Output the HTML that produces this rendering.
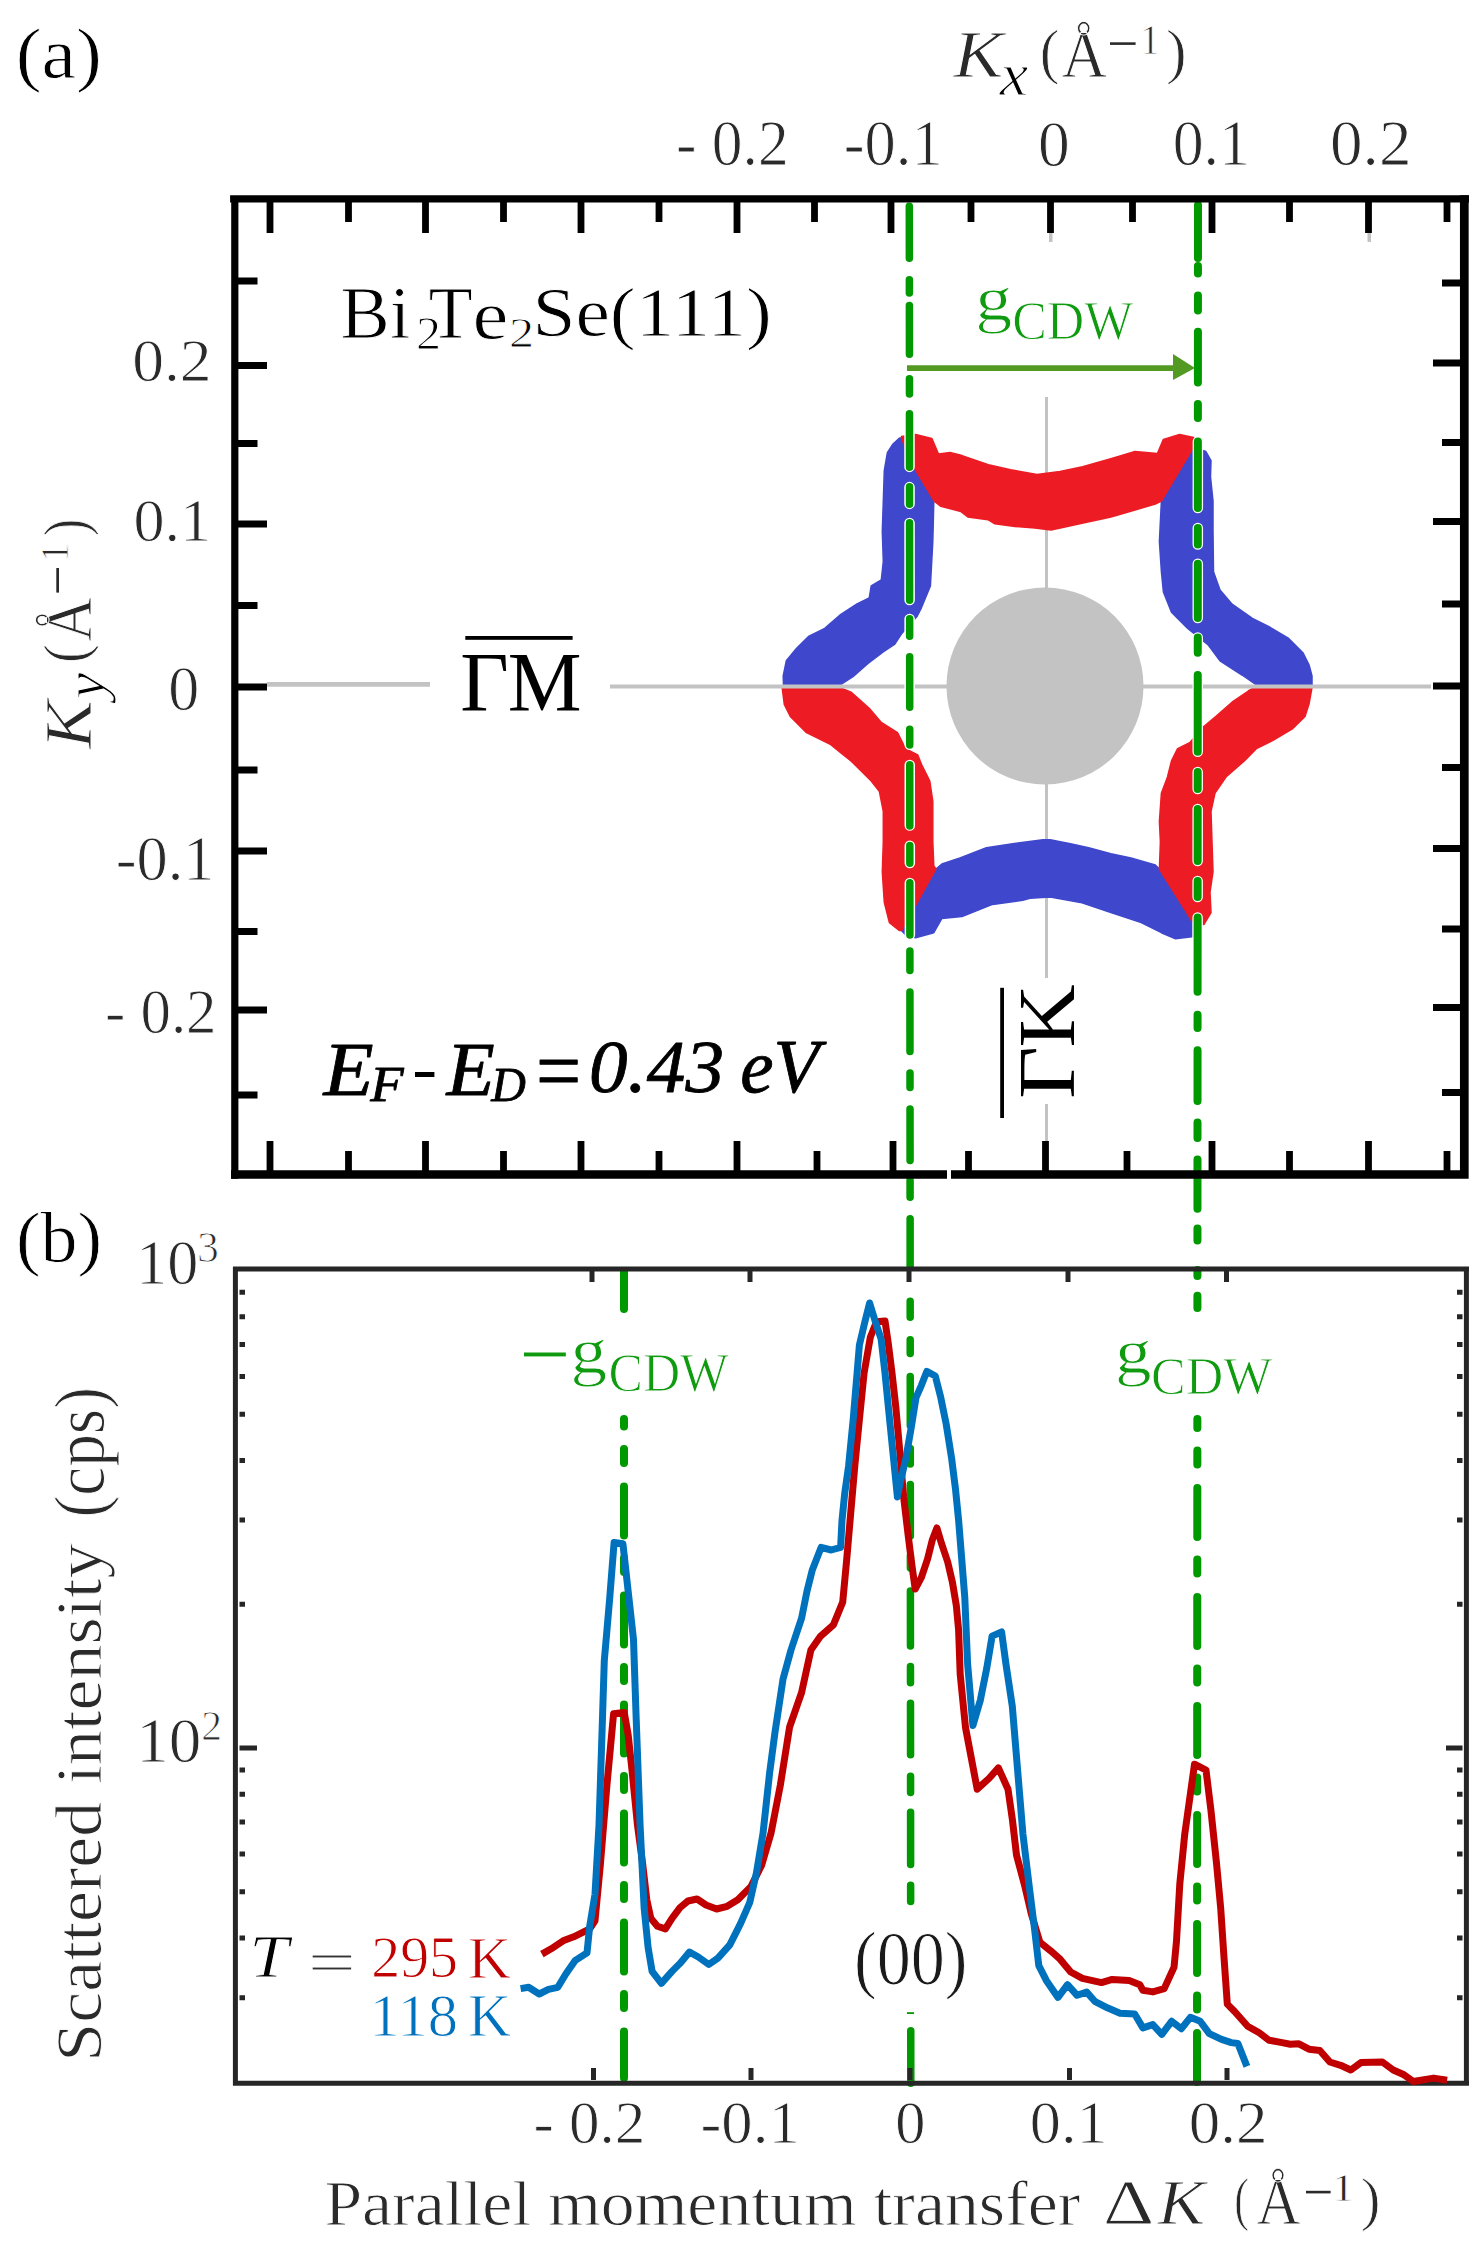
<!DOCTYPE html>
<html><head><meta charset="utf-8"><style>
html,body{margin:0;padding:0;background:#fff;}
svg{display:block;}
</style></head><body>
<svg width="1484" height="2259" viewBox="0 0 1484 2259">
<rect width="1484" height="2259" fill="#fff"/>
<line x1="1046.5" y1="397" x2="1046.5" y2="978" stroke="#c3c3c3" stroke-width="3"/>
<line x1="1046.5" y1="1104" x2="1046.5" y2="1142" stroke="#c3c3c3" stroke-width="3"/>
<circle cx="1045" cy="686" r="98.5" fill="#c3c3c3"/>
<rect x="1049" y="229" width="3.5" height="13" fill="#c3c3c3"/><rect x="1367.5" y="229" width="3.5" height="13" fill="#c3c3c3"/>
<polygon points="899.5,438.0 893.0,444.0 887.4,452.6 884.3,470.7 883.3,501.0 882.3,531.4 883.3,561.7 881.3,580.0 871.2,586.0 869.2,598.0 857.0,604.0 840.9,614.3 824.7,628.4 808.5,636.5 796.4,648.6 786.3,660.8 783.2,676.0 783.5,685.0 839.8,685.0 853.0,676.6 868.0,663.4 883.2,652.0 894.5,644.5 902.0,633.2 917.2,616.2 921.0,608.7 930.4,586.0 932.8,541.5 933.8,501.0 913.6,467.5 901.5,438.0" fill="#3f48cc" stroke="#3f48cc" stroke-width="1.5" stroke-linejoin="round"/>
<polygon points="1194.0,448.5 1199.8,449.5 1205.9,451.5 1211.0,460.6 1210.5,476.8 1213.0,501.0 1213.0,531.4 1213.5,571.8 1220.0,590.0 1232.1,604.2 1252.4,618.3 1268.5,626.4 1288.7,638.5 1302.9,652.7 1309.0,664.8 1312.0,676.0 1312.0,685.0 1256.4,685.0 1242.0,675.0 1220.0,660.8 1207.9,644.6 1187.7,628.4 1171.5,612.2 1163.4,592.0 1161.4,571.8 1159.4,541.5 1161.4,501.0" fill="#3f48cc" stroke="#3f48cc" stroke-width="1.5" stroke-linejoin="round"/>
<polygon points="935.9,869.0 941.9,864.0 960.0,857.9 986.4,847.8 1012.7,843.7 1043.0,839.7 1050.2,839.7 1070.4,843.7 1088.6,847.8 1110.9,853.8 1131.0,857.9 1155.3,865.0 1159.4,869.0 1192.0,921.0 1192.0,936.7 1175.5,938.7 1161.4,932.7 1141.2,922.6 1110.9,912.5 1080.5,902.4 1050.2,897.0 1030.0,898.3 1022.8,900.3 992.5,904.4 962.0,916.5 941.9,918.5 933.8,932.7 915.6,937.7 905.5,934.7 901.5,930.6" fill="#3f48cc" stroke="#3f48cc" stroke-width="1.5" stroke-linejoin="round"/>
<polygon points="901.5,436.4 915.6,434.4 931.8,438.4 938.5,454.0 950.0,452.6 962.0,455.6 988.4,464.7 1010.6,469.7 1037.0,474.5 1060.0,471.5 1082.6,466.7 1110.9,458.6 1135.0,451.5 1157.4,453.6 1163.4,439.4 1179.6,434.4 1193.7,437.4 1194.5,445.5 1161.4,501.0 1155.3,504.0 1135.0,510.0 1110.9,517.0 1086.6,522.3 1060.3,528.0 1051.0,530.0 1035.0,528.0 1015.0,526.5 994.8,523.8 988.0,519.7 967.8,517.0 961.0,511.6 940.9,506.3 934.5,501.5 913.9,467.2 901.5,438.4" fill="#ed1c24" stroke="#ed1c24" stroke-width="1.5" stroke-linejoin="round"/>
<polygon points="1312.0,687.5 1309.0,704.0 1305.0,716.4 1292.8,728.5 1272.6,740.6 1256.4,748.7 1244.3,760.9 1226.0,777.0 1215.0,793.2 1211.0,811.4 1212.0,841.7 1213.0,872.0 1210.0,892.2 1211.0,912.5 1203.8,924.6 1192.0,921.0 1159.4,869.0 1160.4,841.7 1159.4,821.5 1161.4,793.2 1167.5,777.0 1171.5,760.9 1177.6,748.7 1189.7,742.7 1203.8,726.5 1216.0,716.4 1232.0,702.2 1248.3,691.0 1254.4,687.5" fill="#ed1c24" stroke="#ed1c24" stroke-width="1.5" stroke-linejoin="round"/>
<polygon points="782.2,688.0 784.3,704.3 790.3,716.4 806.5,732.6 830.8,744.7 840.9,752.8 851.0,760.9 871.2,781.0 879.3,791.2 883.3,811.4 883.3,841.7 882.3,872.0 884.3,902.4 889.4,922.6 899.5,930.6 901.5,930.6 935.9,869.0 933.8,866.0 932.8,841.7 932.8,801.3 929.8,781.0 921.7,764.9 917.7,754.8 905.5,748.7 897.5,732.6 881.3,722.5 869.2,708.3 851.0,692.1 840.9,688.0" fill="#ed1c24" stroke="#ed1c24" stroke-width="1.5" stroke-linejoin="round"/>
<line x1="267" y1="684.4" x2="430" y2="684.4" stroke="#c3c3c3" stroke-width="4.6"/>
<line x1="610" y1="686.5" x2="1431" y2="686.5" stroke="#c3c3c3" stroke-width="4"/>
<path d="M909.47,414.1L909.52,466.9M909.52,487.1L909.55,503.9M909.55,523.0L909.62,600.0M909.63,619.0L909.65,636.0M909.66,657.0L909.71,707.0M909.72,729.5L909.74,744.7M909.74,765.0L909.80,825.6M909.81,845.8L909.83,863.0M909.84,883.0L909.89,934.7" stroke="#fff" stroke-width="10.5" stroke-linecap="round" fill="none"/>
<path d="M1197.89,404.1L1197.88,417.9M1197.88,441.4L1197.83,508.0M1197.83,528.0L1197.81,544.6M1197.81,563.8L1197.78,618.0M1197.77,637.5L1197.76,652.7M1197.75,675.0L1197.71,751.8M1197.70,772.0L1197.69,789.0M1197.68,809.0L1197.65,861.0M1197.64,881.0L1197.63,897.0M1197.62,917.5L1197.58,991.7" stroke="#fff" stroke-width="10.5" stroke-linecap="round" fill="none"/>
<path d="M909.30,206.2L909.35,258.2M909.36,279.8L909.38,292.9M909.38,305.4L909.43,354.2M909.44,378.8L909.46,393.9M909.47,413.8L909.52,467.2M909.52,486.8L909.54,504.2M909.55,522.8L909.62,600.2M909.63,618.8L909.65,636.2M909.66,656.8L909.71,707.2M909.72,729.2L909.74,745.0M909.75,764.8L909.80,825.9M909.81,845.5L909.83,863.2M909.84,882.8L909.89,935.0M909.89,951.0L909.91,970.5M909.93,992.0L909.98,1051.5M909.99,1073.0L910.01,1087.5M910.02,1109.0L910.07,1160.5M910.07,1180.2L910.09,1197.2M910.11,1218.8L910.15,1267.0M910.17,1301.2L910.19,1317.3M910.20,1339.7L910.22,1353.5M910.23,1376.5L910.28,1425.5M910.29,1448.5L910.31,1464.0M910.32,1484.5L910.36,1536.0M910.37,1555.8L910.39,1568.0M910.40,1591.0L910.45,1646.0M910.46,1666.5L910.48,1682.8M910.49,1703.3L910.54,1754.8M910.55,1776.2L910.57,1792.5M910.58,1812.2L910.62,1864.5M910.63,1885.2L910.65,1901.5M910.75,2030.8L910.80,2083.2" stroke="#009900" stroke-width="7.5" stroke-linecap="round" fill="none"/>
<path d="M1198.00,205.0L1197.97,258.0M1197.97,266.0L1197.96,273.5M1197.95,295.5L1197.94,310.5M1197.93,331.8L1197.90,382.5M1197.89,404.0L1197.88,418.0M1197.87,441.4L1197.83,508.0M1197.83,528.0L1197.82,544.6M1197.81,563.7L1197.78,618.0M1197.77,637.5L1197.76,652.7M1197.75,675.0L1197.71,751.8M1197.70,772.0L1197.69,789.0M1197.68,809.0L1197.65,861.0M1197.64,881.0L1197.63,897.0M1197.62,917.5L1197.58,991.7M1197.57,1014.8L1197.56,1027.9M1197.55,1050.2L1197.52,1101.0M1197.51,1122.5L1197.50,1138.0M1197.49,1159.5L1197.46,1208.7M1197.46,1228.5L1197.45,1240.6M1197.44,1270.0L1197.43,1276.0M1197.42,1295.7L1197.41,1308.0M1197.36,1419.0L1197.35,1428.0M1197.34,1450.5L1197.33,1464.5M1197.32,1488.0L1197.29,1537.0M1197.28,1559.5L1197.27,1573.5M1197.26,1597.0L1197.23,1646.0M1197.23,1668.5L1197.21,1682.5M1197.21,1706.0L1197.18,1755.0M1197.17,1777.5L1197.16,1791.5M1197.15,1815.0L1197.12,1864.0M1197.11,1886.5L1197.10,1900.5M1197.09,1924.0L1197.06,1973.0M1197.05,1995.5L1197.04,2009.5M1197.03,2033.0L1197.00,2082.0" stroke="#009900" stroke-width="8" stroke-linecap="round" fill="none"/>
<path d="M624.00,1272.0L624.00,1309.0M624.00,1419.0L624.00,1426.5M624.00,1449.0L624.00,1463.0M624.00,1486.5L624.00,1535.5M624.00,1558.0L624.00,1572.0M624.00,1595.5L624.00,1644.5M624.00,1667.0L624.00,1681.0M624.00,1704.5L624.00,1753.5M624.00,1776.0L624.00,1790.0M624.00,1813.5L624.00,1862.5M624.00,1885.0L624.00,1899.0M624.00,1922.5L624.00,1971.5M624.00,1994.0L624.00,2008.0M624.00,2031.5L624.00,2078.0" stroke="#009900" stroke-width="8" stroke-linecap="round" fill="none"/>
<rect x="907" y="2012.2" width="7" height="1.8" fill="#009900"/>
<line x1="907" y1="368.1" x2="1176" y2="368.1" stroke="#529a22" stroke-width="5.9"/>
<polygon points="1173,354 1173,380 1195,368.1" fill="#529a22"/>
<path d="M234.8,195.2V1178.8 M230.1,198.8H1469" stroke="#000" stroke-width="7.2" fill="none"/>
<path d="M1464.3,195.2V1178.8 M231,1174.5H947 M951,1174.5H1466" stroke="#000" stroke-width="8.7" fill="none"/>
<path d="M270,202V233 M425.5,202V233 M581,202V233 M737,202V233 M891,202V233 M1050.5,202V233 M1212,202V233 M1368.5,202V233 M348.5,202V222 M503.5,202V222 M659,202V222 M814.5,202V222 M971,202V222 M1132.5,202V222 M1289.5,202V222 M1447,202V222 M270,1171V1141 M425.5,1171V1141 M581,1171V1141 M737,1171V1141 M893,1171V1141 M1045.5,1171V1141 M1212,1171V1141 M1368.5,1171V1141 M348.5,1171V1151 M503.5,1171V1151 M659,1171V1151 M817,1171V1151 M968.5,1171V1151 M1127,1171V1151 M1289.5,1171V1151 M1447,1171V1151 M238,365.5H267 M238,524H267 M238,687H267 M238,851H267 M238,1010H267 M238,281H257.5 M238,443.5H257.5 M238,605.5H257.5 M238,770H257.5 M238,931.5H257.5 M238,1095H257.5 M1460,363H1433 M1460,521.5H1433 M1460,686H1433 M1460,848.5H1433 M1460,1007.5H1433 M1460,283H1442 M1460,442.5H1442 M1460,604H1442 M1460,767.5H1442 M1460,929H1442 M1460,1092.5H1442" stroke="#000" stroke-width="6.8" fill="none"/>
<rect x="465.3" y="636" width="107.3" height="3.8" fill="#000"/>
<rect x="1000.2" y="987.8" width="3.8" height="130.2" fill="#000"/>
<rect x="1110" y="42.3" width="25.6" height="2.6" fill="#2a2a2a"/>
<rect x="56.3" y="568" width="2.7" height="24.6" fill="#2a2a2a"/>
<rect x="415" y="1072" width="19.4" height="5" fill="#000"/>
<rect x="524" y="1352.5" width="41.8" height="3.9" fill="#109a10"/>
<rect x="1306" y="2190.8" width="24.6" height="2.6" fill="#2a2a2a"/>
<path d="M235.4,1266.8V2085.6 M233,1269H1469 M1466.4,1266.8V2085.6 M233,2083.2H1469" stroke="#262626" stroke-width="5" fill="none"/>
<path d="M593.5,2080V2068 M751,2080V2068 M910,2080V2068 M1069.5,2080V2068 M1227,2080V2068 M592,1271V1282 M750,1271V1282 M909,1271V1282 M1068,1271V1282 M1226.5,1271V1282 M239.5,1604.2H245 M1462.5,1604.2H1457 M239.5,1520.1H245 M1462.5,1520.1H1457 M239.5,1460.5H245 M1462.5,1460.5H1457 M239.5,1414.2H245 M1462.5,1414.2H1457 M239.5,1376.4H245 M1462.5,1376.4H1457 M239.5,1344.4H245 M1462.5,1344.4H1457 M239.5,1316.7H245 M1462.5,1316.7H1457 M239.5,1292.3H245 M1462.5,1292.3H1457 M239.5,1997.7H245 M1462.5,1997.7H1457 M239.5,1938.1H245 M1462.5,1938.1H1457 M239.5,1891.8H245 M1462.5,1891.8H1457 M239.5,1854.0H245 M1462.5,1854.0H1457 M239.5,1822.0H245 M1462.5,1822.0H1457 M239.5,1794.3H245 M1462.5,1794.3H1457 M239.5,1769.9H245 M1462.5,1769.9H1457 M239.5,1748H257 M1462.5,1748H1446" stroke="#262626" stroke-width="5" fill="none"/>
<polyline points="541.9,1954.1 551.2,1948.8 563.1,1940.8 573.7,1936.8 581.7,1932.8 589.7,1928.9 595.0,1920.9 600.3,1865.1 606.9,1785.4 613.6,1713.7 624.2,1712.4 628.2,1735.0 632.2,1772.2 637.5,1825.3 642.8,1865.1 646.8,1899.7 650.8,1918.3 657.4,1926.2 665.4,1928.9 672.0,1918.3 680.0,1907.6 688.0,1901.0 697.0,1899.0 706.0,1905.0 716.6,1909.0 727.2,1906.3 737.8,1899.7 751.1,1886.4 761.7,1865.1 771.0,1833.3 780.3,1785.4 789.6,1727.0 801.6,1692.5 810.9,1650.0 820.1,1636.7 833.4,1624.8 842.7,1602.2 846.7,1559.7 850.1,1520.1 854.8,1465.9 859.4,1419.4 864.1,1373.0 870.3,1337.3 876.5,1321.8 885.0,1321.0 888.1,1342.0 892.0,1373.0 895.8,1407.0 899.7,1450.4 903.6,1496.9 908.2,1535.6 912.1,1566.6 915.2,1589.0 921.4,1577.4 927.6,1558.9 932.2,1540.3 936.9,1527.9 941.5,1543.4 947.7,1562.0 952.4,1582.1 956.3,1605.3 958.6,1630.0 960.2,1674.4 965.5,1727.5 977.2,1789.2 988.9,1778.5 998.4,1767.9 1008.0,1789.2 1012.3,1818.9 1016.5,1855.0 1025.0,1886.9 1031.5,1914.6 1039.9,1942.2 1050.5,1950.7 1060.1,1959.2 1070.7,1972.0 1082.4,1978.3 1101.5,1982.6 1112.2,1979.4 1129.2,1980.4 1139.8,1984.7 1142.9,1990.2 1152.8,1991.9 1164.2,1988.6 1174.0,1967.3 1176.5,1941.1 1179.8,1883.8 1184.7,1834.6 1190.4,1793.7 1194.5,1764.2 1206.0,1770.0 1210.9,1810.0 1216.6,1864.1 1220.7,1908.3 1224.0,1957.5 1227.3,2004.1 1234.6,2011.5 1247.7,2026.3 1259.2,2032.8 1269.0,2040.2 1282.1,2042.6 1290.3,2044.3 1298.9,2043.8 1309.0,2049.2 1319.8,2050.5 1329.9,2062.0 1340.6,2065.3 1350.8,2070.0 1360.9,2062.6 1382.4,2062.0 1393.2,2070.0 1404.0,2074.8 1413.4,2081.5 1433.6,2078.1 1447.1,2080.2" fill="none" stroke="#c00000" stroke-width="7" stroke-linejoin="round" stroke-linecap="butt"/>
<polyline points="520.6,1988.6 528.6,1987.3 539.2,1994.0 548.5,1989.4 557.8,1987.3 565.8,1974.0 575.0,1960.7 587.0,1952.8 589.7,1926.2 595.0,1894.3 599.0,1825.3 601.6,1745.6 604.3,1660.6 609.6,1599.5 614.1,1542.4 622.9,1543.7 628.2,1591.6 633.5,1639.4 636.2,1719.0 640.1,1825.3 644.1,1907.6 648.1,1947.5 652.1,1971.4 661.4,1983.3 672.0,1971.4 680.0,1963.4 689.5,1952.0 698.3,1957.0 708.8,1964.5 717.9,1958.1 729.8,1944.8 740.5,1923.6 749.8,1902.3 756.4,1873.1 763.0,1833.3 769.7,1772.2 775.0,1732.3 783.0,1679.2 791.0,1650.0 801.6,1618.1 806.9,1591.6 812.2,1570.3 821.1,1547.4 831.2,1550.0 840.6,1547.4 842.0,1520.4 844.7,1493.5 848.6,1465.9 853.2,1419.4 857.1,1373.0 859.4,1345.0 864.9,1321.8 869.6,1303.0 874.9,1320.3 881.1,1338.9 885.0,1373.0 889.6,1419.4 893.5,1458.2 897.4,1496.9 900.5,1481.4 905.9,1458.2 911.3,1427.2 916.0,1397.7 921.4,1385.3 926.8,1371.4 935.3,1376.0 940.8,1397.7 946.2,1424.1 951.6,1458.2 955.5,1489.1 958.6,1520.1 961.7,1558.9 964.8,1597.6 967.6,1663.8 972.9,1725.4 980.4,1699.9 986.8,1668.0 992.1,1636.1 1001.6,1631.9 1005.9,1663.8 1012.3,1706.3 1017.6,1770.0 1022.9,1833.8 1029.3,1886.9 1034.6,1929.4 1038.8,1965.6 1046.3,1980.4 1058.0,1997.4 1067.5,1984.7 1077.1,1995.3 1086.7,1992.1 1095.2,2001.7 1107.9,2008.1 1120.0,2013.2 1134.7,2014.0 1142.9,2027.9 1152.8,2024.6 1161.8,2034.4 1171.6,2021.3 1181.4,2028.7 1190.4,2017.3 1200.2,2021.3 1209.3,2033.6 1221.5,2039.4 1231.4,2042.6 1237.9,2043.5 1246.9,2066.4" fill="none" stroke="#0072bd" stroke-width="7" stroke-linejoin="round" stroke-linecap="butt"/>
<g id="ta" class="tx" transform="matrix(0.97119,0,0,0.90447,-2.724,3.768)"><text class="thin" x="19" y="82" style="font-family:'Liberation Serif', serif;font-size:80px;fill:#000;stroke:#fff;stroke-width:0.9px;">(a)</text></g>
<g id="kxK" class="tx" transform="matrix(1.16554,0,0,1.04541,-156.165,-3.257)"><text class="thin" x="952" y="77" style="font-family:'Liberation Serif', serif;font-size:64px;fill:#2a2a2a;font-style:italic;stroke:#fff;stroke-width:0.9px;">K</text></g>
<g id="kxx" class="tx" transform="matrix(1.28180,0,0,1.22413,-280.640,-13.008)"><text class="thin" x="999" y="88" style="font-family:'Liberation Serif', serif;font-size:50px;fill:#000;font-style:italic;stroke:#fff;stroke-width:0.9px;">x</text></g>
<g id="kxp1" class="tx" transform="matrix(0.92341,0,0,0.96249,77.561,-2.526)"><text class="thin" x="1042" y="77" style="font-family:'Liberation Serif', serif;font-size:64px;fill:#2a2a2a;stroke:#fff;stroke-width:0.9px;">(</text></g>
<g id="kxA" class="tx" transform="matrix(0.98428,0,0,1.07071,16.227,-5.189)"><text class="thin" x="1062" y="77" style="font-family:'Liberation Serif', serif;font-size:64px;fill:#2a2a2a;stroke:#fff;stroke-width:0.9px;">Å</text></g>
<g id="kx1" class="tx" transform="matrix(1.04167,0,0,1.06200,-51.125,-2.895)"><text class="thin" x="1143" y="54" style="font-family:'Liberation Serif', serif;font-size:40px;fill:#2a2a2a;stroke:#fff;stroke-width:0.9px;">1</text></g>
<g id="kxp2" class="tx" transform="matrix(0.96832,0,0,0.96249,35.003,-2.526)"><text class="thin" x="1168" y="77" style="font-family:'Liberation Serif', serif;font-size:64px;fill:#2a2a2a;stroke:#fff;stroke-width:0.9px;">)</text></g>
<g id="xt0" class="tx" transform="matrix(0.96131,0,0,1.01007,23.869,-2.636)"><text class="thin" x="678.3" y="166" style="font-family:'Liberation Serif', serif;font-size:64px;fill:#2a2a2a;stroke:#fff;stroke-width:0.9px;">- 0.2</text></g>
<g id="xt1" class="tx" transform="matrix(0.97776,0,0,1.01007,16.478,-2.636)"><text class="thin" x="846" y="166" style="font-family:'Liberation Serif', serif;font-size:64px;fill:#2a2a2a;stroke:#fff;stroke-width:0.9px;">-0.1</text></g>
<g id="xt2" class="tx" transform="matrix(0.99194,0,0,1.02792,6.122,-5.197)"><text class="thin" x="1040.2" y="166.6" style="font-family:'Liberation Serif', serif;font-size:64px;fill:#2a2a2a;stroke:#fff;stroke-width:0.9px;">0</text></g>
<g id="xt3" class="tx" transform="matrix(0.96630,0,0,1.01007,37.274,-2.636)"><text class="thin" x="1175" y="166" style="font-family:'Liberation Serif', serif;font-size:64px;fill:#2a2a2a;stroke:#fff;stroke-width:0.9px;">0.1</text></g>
<g id="xt4" class="tx" transform="matrix(1.01709,0,0,1.01007,-25.393,-2.636)"><text class="thin" x="1332.7" y="166" style="font-family:'Liberation Serif', serif;font-size:64px;fill:#2a2a2a;stroke:#fff;stroke-width:0.9px;">0.2</text></g>
<g id="yt0" class="tx" transform="matrix(0.99374,0,0,0.96764,-1.517,11.309)"><text class="thin" x="134.5" y="381.8" style="font-family:'Liberation Serif', serif;font-size:64px;fill:#2a2a2a;stroke:#fff;stroke-width:0.9px;">0.2</text></g>
<g id="yt1" class="tx" transform="matrix(0.97180,0,0,0.94959,1.586,26.353)"><text class="thin" x="135.7" y="541.5" style="font-family:'Liberation Serif', serif;font-size:64px;fill:#2a2a2a;stroke:#fff;stroke-width:0.9px;">0.1</text></g>
<g id="yt2" class="tx" transform="matrix(0.96876,0,0,0.97538,2.920,16.978)"><text class="thin" x="170.8" y="710.6" style="font-family:'Liberation Serif', serif;font-size:64px;fill:#2a2a2a;stroke:#fff;stroke-width:0.9px;">0</text></g>
<g id="yt3" class="tx" transform="matrix(0.97624,0,0,0.97855,0.456,18.035)"><text class="thin" x="118" y="880.6" style="font-family:'Liberation Serif', serif;font-size:64px;fill:#2a2a2a;stroke:#fff;stroke-width:0.9px;">-0.1</text></g>
<g id="yt4" class="tx" transform="matrix(0.95145,0,0,0.97855,2.867,21.168)"><text class="thin" x="107.3" y="1034.4" style="font-family:'Liberation Serif', serif;font-size:64px;fill:#2a2a2a;stroke:#fff;stroke-width:0.9px;">- 0.2</text></g>
<g id="kyK" class="tx" transform="matrix(1.04541,0,0,1.14656,-4.101,-111.031)"><text class="thin" x="0" y="0" transform="translate(91,750) rotate(-90)" style="font-family:'Liberation Serif', serif;font-size:64px;fill:#2a2a2a;font-style:italic;stroke:#fff;stroke-width:0.9px;">K</text></g>
<g id="kyy" class="tx" transform="matrix(1.15625,0,0,1.17266,-17.044,-126.716)"><text class="thin" x="0" y="0" transform="translate(105,704) rotate(-90)" style="font-family:'Liberation Serif', serif;font-size:50px;fill:#000;font-style:italic;stroke:#fff;stroke-width:0.9px;">y</text></g>
<g id="kyp1" class="tx" transform="matrix(0.95044,0,0,0.87952,-0.507,81.680)"><text class="thin" x="0" y="0" transform="translate(91,661) rotate(-90)" style="font-family:'Liberation Serif', serif;font-size:64px;fill:#2a2a2a;stroke:#fff;stroke-width:0.9px;">(</text></g>
<g id="kyA" class="tx" transform="matrix(1.07207,0,0,0.95253,-6.526,30.899)"><text class="thin" x="0" y="0" transform="translate(91,641) rotate(-90)" style="font-family:'Liberation Serif', serif;font-size:64px;fill:#2a2a2a;stroke:#fff;stroke-width:0.9px;">Å</text></g>
<g id="ky1" class="tx" transform="matrix(1.02639,0,0,0.94933,-1.681,31.515)"><text class="thin" x="0" y="0" transform="translate(68,559) rotate(-90)" style="font-family:'Liberation Serif', serif;font-size:40px;fill:#2a2a2a;stroke:#fff;stroke-width:0.9px;">1</text></g>
<g id="kyp2" class="tx" transform="matrix(0.95218,0,0,0.82459,-0.655,95.021)"><text class="thin" x="0" y="0" transform="translate(91,535) rotate(-90)" style="font-family:'Liberation Serif', serif;font-size:64px;fill:#2a2a2a;stroke:#fff;stroke-width:0.9px;">)</text></g>
<g id="bi" class="tx" transform="matrix(1.02985,0,0,1.03234,-11.891,-10.585)"><text class="thin" x="342" y="338" style="font-family:'Liberation Serif', serif;font-size:72px;fill:#000;stroke:#fff;stroke-width:0.9px;">Bi</text></g>
<g id="bi2a" class="tx" transform="matrix(1.14035,0,0,1.05188,-60.681,-16.091)"><text class="thin" x="418" y="347" style="font-family:'Liberation Serif', serif;font-size:44px;fill:#000;stroke:#fff;stroke-width:0.9px;">2</text></g>
<g id="biT" class="tx" transform="matrix(1.00405,0,0,1.04205,-3.114,-13.720)"><text class="thin" x="430" y="338" style="font-family:'Liberation Serif', serif;font-size:72px;fill:#000;stroke:#fff;stroke-width:0.9px;">T</text></g>
<g id="bie" class="tx" transform="matrix(1.12298,0,0,0.97561,-60.967,9.653)"><text class="thin" x="475" y="338" style="font-family:'Liberation Serif', serif;font-size:72px;fill:#000;stroke:#fff;stroke-width:0.9px;">e</text></g>
<g id="bi2b" class="tx" transform="matrix(1.14341,0,0,0.95502,-75.381,16.062)"><text class="thin" x="511" y="347" style="font-family:'Liberation Serif', serif;font-size:44px;fill:#000;stroke:#fff;stroke-width:0.9px;">2</text></g>
<g id="bise" class="tx" transform="matrix(1.07569,0,0,0.97289,-45.228,6.716)"><text class="thin" x="537" y="338" style="font-family:'Liberation Serif', serif;font-size:72px;fill:#000;stroke:#fff;stroke-width:0.9px;">Se(111)</text></g>
<g id="ga_g" class="tx" transform="matrix(1.23449,0,0,1.06778,-232.186,-21.511)"><text class="thin" x="978" y="320" style="font-family:'Liberation Serif', serif;font-size:60px;fill:#109a10;stroke:#fff;stroke-width:0.9px;">g</text></g>
<g id="ga_c" class="tx" transform="matrix(0.96088,0,0,0.99805,37.925,-0.296)"><text class="thin" x="1014" y="340" style="font-family:'Liberation Serif', serif;font-size:54px;fill:#109a10;stroke:#fff;stroke-width:0.9px;">CDW</text></g>
<g id="gmG" class="tx" transform="matrix(1.01180,0,0,1.01361,-7.100,-8.917)"><text x="462" y="710" style="font-family:'Liberation Serif', serif;font-size:83px;fill:#000;">Γ</text></g>
<g id="gmM" class="tx" transform="matrix(1.00000,0,0,1.01361,-2.333,-8.917)"><text x="510" y="710" style="font-family:'Liberation Serif', serif;font-size:83px;fill:#000;">M</text></g>
<g id="efE" class="tx" transform="matrix(1.13895,0,0,1.06162,-43.128,-66.797)"><text x="322" y="1094" style="font-family:'Liberation Serif', serif;font-size:72px;fill:#000;font-style:italic;stroke:#000;stroke-width:0.8px;stroke-linejoin:round;">E</text></g>
<g id="efF" class="tx" transform="matrix(1.13833,0,0,1.03972,-50.813,-43.395)"><text x="370" y="1101" style="font-family:'Liberation Serif', serif;font-size:48px;fill:#000;font-style:italic;stroke:#000;stroke-width:0.8px;stroke-linejoin:round;">F</text></g>
<g id="edE" class="tx" transform="matrix(1.09668,0,0,1.06162,-41.553,-66.797)"><text x="445" y="1094" style="font-family:'Liberation Serif', serif;font-size:72px;fill:#000;font-style:italic;stroke:#000;stroke-width:0.8px;stroke-linejoin:round;">E</text></g>
<g id="edD" class="tx" transform="matrix(0.99912,0,0,1.01990,1.733,-21.874)"><text x="490" y="1101" style="font-family:'Liberation Serif', serif;font-size:48px;fill:#000;font-style:italic;stroke:#000;stroke-width:0.8px;stroke-linejoin:round;">D</text></g>
<g id="efeq" class="tx" transform="matrix(1.11280,0,0,1.19940,-63.688,-207.533)"><text x="539" y="1090" style="font-family:'Liberation Serif', serif;font-size:72px;fill:#000;stroke:#000;stroke-width:0.8px;stroke-linejoin:round;">=</text></g>
<g id="ef043" class="tx" transform="matrix(1.07212,0,0,1.02051,-44.649,-24.102)"><text x="591" y="1094" style="font-family:'Liberation Serif', serif;font-size:72px;fill:#000;font-style:italic;stroke:#000;stroke-width:0.8px;stroke-linejoin:round;">0.43</text></g>
<g id="efeV" class="tx" transform="matrix(1.04093,0,0,1.05344,-32.108,-60.179)"><text x="742" y="1094" style="font-family:'Liberation Serif', serif;font-size:72px;fill:#000;font-style:italic;stroke:#000;stroke-width:0.8px;stroke-linejoin:round;">eV</text></g>
<g id="gkK" class="tx" transform="matrix(1.00299,0,0,1.09231,-3.504,-93.948)"><text x="0" y="0" transform="translate(1074,1045) rotate(-90)" style="font-family:'Liberation Serif', serif;font-size:80px;fill:#000;">K</text></g>
<g id="gkG" class="tx" transform="matrix(1.00340,0,0,1.14224,-3.933,-153.004)"><text x="0" y="0" transform="translate(1074,1096) rotate(-90)" style="font-family:'Liberation Serif', serif;font-size:80px;fill:#000;">Γ</text></g>
<g id="tb" class="tx" transform="matrix(0.92242,0,0,0.90669,-1.522,115.433)"><text class="thin" x="19" y="1265" style="font-family:'Liberation Serif', serif;font-size:80px;fill:#000;stroke:#fff;stroke-width:0.9px;">(b)</text></g>
<g id="y3a" class="tx" transform="matrix(0.97154,0,0,0.99518,-0.852,5.833)"><text class="thin" x="141" y="1284" style="font-family:'Liberation Serif', serif;font-size:64px;fill:#2a2a2a;stroke:#fff;stroke-width:0.9px;">10</text></g>
<g id="y3b" class="tx" transform="matrix(1.04063,0,0,1.05582,-9.995,-70.027)"><text class="thin" x="199" y="1262" style="font-family:'Liberation Serif', serif;font-size:42px;fill:#2a2a2a;stroke:#fff;stroke-width:0.9px;">3</text></g>
<g id="y2a" class="tx" transform="matrix(1.01911,0,0,0.98556,-8.470,25.241)"><text class="thin" x="142" y="1762" style="font-family:'Liberation Serif', serif;font-size:64px;fill:#2a2a2a;stroke:#fff;stroke-width:0.9px;">10</text></g>
<g id="y2b" class="tx" transform="matrix(0.98759,0,0,1.02135,0.681,-36.445)"><text class="thin" x="203" y="1739" style="font-family:'Liberation Serif', serif;font-size:42px;fill:#2a2a2a;stroke:#fff;stroke-width:0.9px;">2</text></g>
<g id="gb1g" class="tx" transform="matrix(1.14632,0,0,1.01233,-86.343,-16.361)"><text class="thin" x="573" y="1372" style="font-family:'Liberation Serif', serif;font-size:64px;fill:#109a10;stroke:#fff;stroke-width:0.9px;">g</text></g>
<g id="gb1c" class="tx" transform="matrix(0.95376,0,0,1.00493,25.802,-7.809)"><text class="thin" x="611" y="1392" style="font-family:'Liberation Serif', serif;font-size:54px;fill:#109a10;stroke:#fff;stroke-width:0.9px;">CDW</text></g>
<g id="gb2g" class="tx" transform="matrix(1.14397,0,0,1.00473,-164.062,-5.054)"><text class="thin" x="1118" y="1372" style="font-family:'Liberation Serif', serif;font-size:64px;fill:#109a10;stroke:#fff;stroke-width:0.9px;">g</text></g>
<g id="gb2c" class="tx" transform="matrix(0.96162,0,0,0.99628,42.302,4.627)"><text class="thin" x="1153" y="1395" style="font-family:'Liberation Serif', serif;font-size:54px;fill:#109a10;stroke:#fff;stroke-width:0.9px;">CDW</text></g>
<g id="lT" class="tx" transform="matrix(1.18055,0,0,1.01403,-50.622,-27.682)"><text class="thin" x="254" y="1977" style="font-family:'Liberation Serif', serif;font-size:60px;fill:#000;font-style:italic;stroke:#fff;stroke-width:0.9px;">T</text></g>
<g id="leq" class="tx" transform="matrix(1.42526,0,0,1.00247,-136.849,2.076)"><text class="thin" x="312" y="1975" style="font-family:'Liberation Serif', serif;font-size:60px;fill:#333;stroke:#fff;stroke-width:0.9px;">=</text></g>
<g id="l295" class="tx" transform="matrix(0.96425,0,0,0.99073,10.601,17.824)"><text class="thin" x="374" y="1978" style="font-family:'Liberation Serif', serif;font-size:60px;fill:#c00000;stroke:#fff;stroke-width:0.9px;">295</text></g>
<g id="l295K" class="tx" transform="matrix(0.99544,0,0,0.99545,1.136,9.651)"><text class="thin" x="469" y="1977" style="font-family:'Liberation Serif', serif;font-size:60px;fill:#c00000;stroke:#fff;stroke-width:0.9px;">K</text></g>
<g id="l118" class="tx" transform="matrix(1.00723,0,0,1.00926,-8.230,-19.202)"><text class="thin" x="375" y="2036" style="font-family:'Liberation Serif', serif;font-size:60px;fill:#0072bd;stroke:#fff;stroke-width:0.9px;">118</text></g>
<g id="l118K" class="tx" transform="matrix(0.99544,0,0,1.01716,1.136,-34.263)"><text class="thin" x="469" y="2035" style="font-family:'Liberation Serif', serif;font-size:60px;fill:#0072bd;stroke:#fff;stroke-width:0.9px;">K</text></g>
<g id="l00" class="tx" transform="matrix(0.97282,0,0,1.09513,20.376,-190.114)"><text class="thin" x="857" y="1985" style="font-family:'Liberation Serif', serif;font-size:70px;fill:#1a1a1a;stroke:#fff;stroke-width:0.9px;">(00)</text></g>
<g id="bxt0" class="tx" transform="matrix(0.95454,0,0,0.96428,21.985,75.548)"><text class="thin" x="535.8" y="2143.9" style="font-family:'Liberation Serif', serif;font-size:64px;fill:#2a2a2a;stroke:#fff;stroke-width:0.9px;">- 0.2</text></g>
<g id="bxt1" class="tx" transform="matrix(0.98048,0,0,0.96428,11.487,75.548)"><text class="thin" x="702.7" y="2143.9" style="font-family:'Liberation Serif', serif;font-size:64px;fill:#2a2a2a;stroke:#fff;stroke-width:0.9px;">-0.1</text></g>
<g id="bxt2" class="tx" transform="matrix(0.94375,0,0,0.97068,48.238,62.250)"><text class="thin" x="897.5" y="2144" style="font-family:'Liberation Serif', serif;font-size:64px;fill:#2a2a2a;stroke:#fff;stroke-width:0.9px;">0</text></g>
<g id="bxt3" class="tx" transform="matrix(0.97227,0,0,0.96309,26.164,78.185)"><text class="thin" x="1032.3" y="2144" style="font-family:'Liberation Serif', serif;font-size:64px;fill:#2a2a2a;stroke:#fff;stroke-width:0.9px;">0.1</text></g>
<g id="bxt4" class="tx" transform="matrix(0.98429,0,0,0.96309,16.270,78.185)"><text class="thin" x="1191.3" y="2144" style="font-family:'Liberation Serif', serif;font-size:64px;fill:#2a2a2a;stroke:#fff;stroke-width:0.9px;">0.2</text></g>
<g id="xl1" class="tx" transform="matrix(1.09249,0,0,1.02640,-31.755,-59.002)"><text class="thin" x="326" y="2225" style="font-family:'Liberation Serif', serif;font-size:62px;fill:#2a2a2a;stroke:#fff;stroke-width:0.9px;">Parallel momentum transfer</text></g>
<g id="xlD" class="tx" transform="matrix(1.28515,0,0,1.01176,-318.325,-26.104)"><text class="thin" x="1106" y="2224" style="font-family:'Liberation Serif', serif;font-size:62px;fill:#2a2a2a;stroke:#fff;stroke-width:0.9px;">Δ</text></g>
<g id="xlK" class="tx" transform="matrix(1.14527,0,0,1.01762,-167.436,-39.139)"><text class="thin" x="1157" y="2224" style="font-family:'Liberation Serif', serif;font-size:62px;fill:#2a2a2a;font-style:italic;stroke:#fff;stroke-width:0.9px;">K</text></g>
<g id="xlp1" class="tx" transform="matrix(0.71530,0,0,0.94398,350.059,119.838)"><text class="thin" x="1236" y="2224" style="font-family:'Liberation Serif', serif;font-size:62px;fill:#2a2a2a;stroke:#fff;stroke-width:0.9px;">(</text></g>
<g id="xlA" class="tx" transform="matrix(0.98351,0,0,1.07628,20.257,-169.632)"><text class="thin" x="1257" y="2224" style="font-family:'Liberation Serif', serif;font-size:62px;fill:#2a2a2a;stroke:#fff;stroke-width:0.9px;">Å</text></g>
<g id="xl1s" class="tx" transform="matrix(1.33663,0,0,0.99813,-453.627,4.553)"><text class="thin" x="1334" y="2201" style="font-family:'Liberation Serif', serif;font-size:40px;fill:#2a2a2a;stroke:#fff;stroke-width:0.9px;">1</text></g>
<g id="xlp2" class="tx" transform="matrix(0.95627,0,0,0.93886,58.292,131.308)"><text class="thin" x="1362" y="2224" style="font-family:'Liberation Serif', serif;font-size:62px;fill:#2a2a2a;stroke:#fff;stroke-width:0.9px;">)</text></g>
<g id="yl1" class="tx" transform="matrix(1.00062,0,0,1.05858,-3.145,-115.872)"><text class="thin" x="0" y="0" transform="translate(104,2057) rotate(-90)" style="font-family:'Liberation Serif', serif;font-size:66px;fill:#2a2a2a;stroke:#fff;stroke-width:0.9px;">Scattered intensity</text></g>
<g id="yl2" class="tx" transform="matrix(1.08300,0,0,0.98954,-9.106,18.360)"><text class="thin" x="0" y="0" transform="translate(104,1515) rotate(-90)" style="font-family:'Liberation Serif', serif;font-size:66px;fill:#2a2a2a;stroke:#fff;stroke-width:0.9px;">(cps)</text></g>
</svg>
</body></html>
